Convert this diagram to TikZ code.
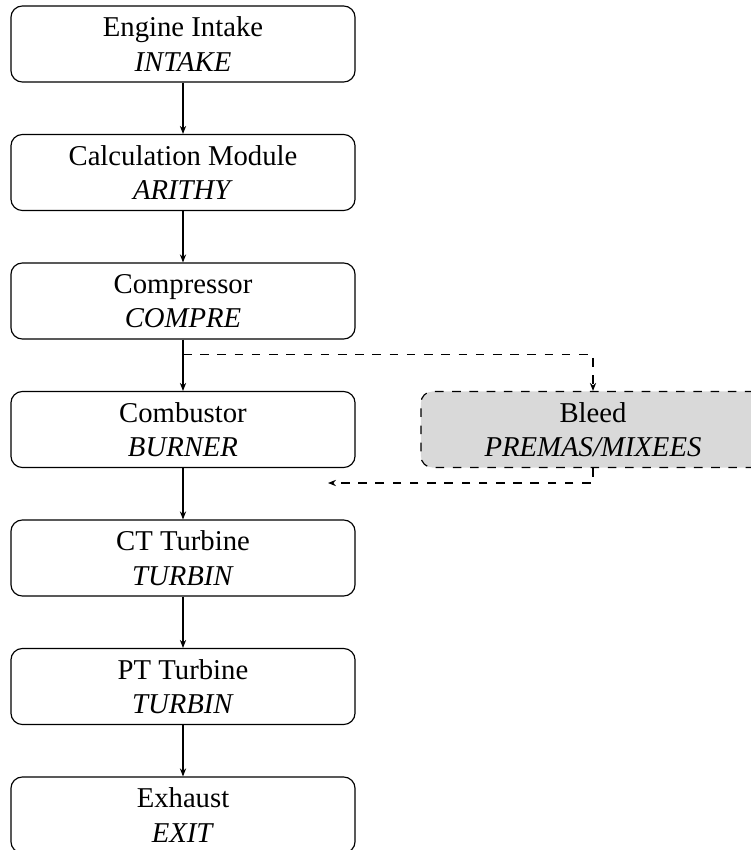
\documentclass[tikz,border=0pt]{standalone}
\usepackage{fontspec}
\setmainfont{Liberation Serif}
\usetikzlibrary{arrows.meta,calc}
\begin{document}
\begin{tikzpicture}[x=0.3484pt,y=-0.3484pt,
  module/.style={draw, rounded corners=4pt, minimum width=119.9pt,
    minimum height=26.5pt, inner sep=0pt, align=center, line width=0.4pt,
    font=\fontsize{10pt}{12pt}\selectfont},
  bleedbox/.style={module, dashed, fill=black!15},
  flow/.style={line width=0.4pt, -{Stealth[length=2.8pt,width=2.2pt]}},
  bleedflow/.style={flow, dashed}]
\clip (0,0) rectangle (751,850);

% main engine chain
\node[module] (intake)  at (183,44)    {Engine Intake\\\textit{INTAKE}};
\node[module] (arithy)  at (183,172.5) {Calculation Module\\\textit{ARITHY}};
\node[module] (compre)  at (183,301)   {Compressor\\\textit{COMPRE}};
\node[module] (burner)  at (183,429.5) {Combustor\\\textit{BURNER}};
\node[module] (ctturb)  at (183,558)   {CT Turbine\\\textit{TURBIN}};
\node[module] (ptturb)  at (183,686.5) {PT Turbine\\\textit{TURBIN}};
\node[module] (exhaust) at (183,815)   {Exhaust\\\textit{EXIT}};

% bleed branch
\node[bleedbox] (bleed) at (593,429.5) {Bleed\\\textit{PREMAS/MIXEES}};

\draw[flow] (intake) -- (arithy);
\draw[flow] (arithy) -- (compre);
\draw[flow] (compre) -- (burner);
\draw[flow] (burner) -- (ctturb);
\draw[flow] (ctturb) -- (ptturb);
\draw[flow] (ptturb) -- (exhaust);

\coordinate (tap) at ($(compre.south)+(0,15)$);
\coordinate (ret) at (328,483);
\draw[bleedflow] (tap) -| (bleed.north);
\draw[bleedflow] (bleed.south) |- (ret);
\end{tikzpicture}
\end{document}
